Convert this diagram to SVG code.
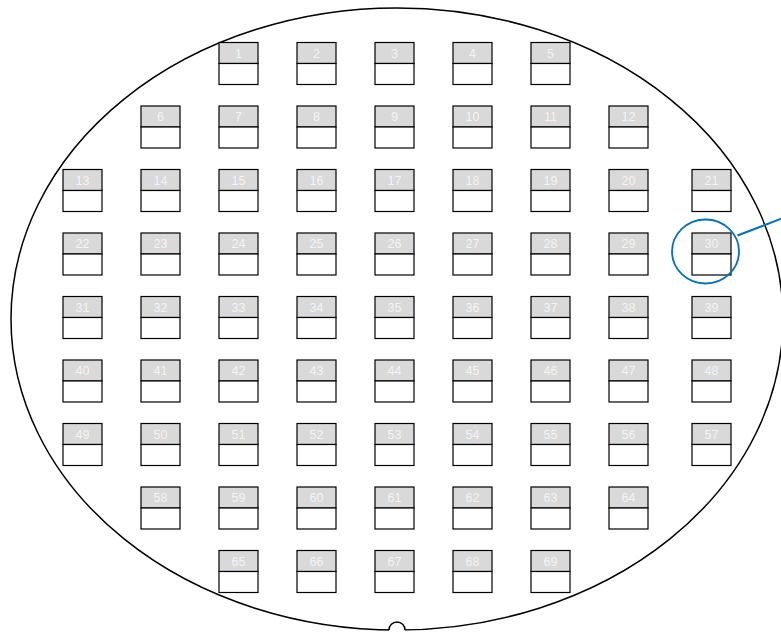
<svg xmlns="http://www.w3.org/2000/svg" width="781" height="633" viewBox="0 0 781 633">
<style>
.h{fill:#d9d9d9;stroke:#000;stroke-width:1.2}
.b{fill:#fff;stroke:#000;stroke-width:1.2}
.t{font-family:"Liberation Sans",Arial,sans-serif;font-size:12.5px;fill:#f4f4f4;text-anchor:middle}
</style>
<rect width="781" height="633" fill="#fff"/>
<g id="wafer">
<ellipse cx="397" cy="319" rx="386" ry="311" fill="none" stroke="#000" stroke-width="1.5"/>
<path d="M389,631 A8,8 0 0 1 405,631 Z" fill="#fff"/>
<path d="M389,630 A8,8 0 0 1 405,630" fill="none" stroke="#000" stroke-width="1.5"/>
</g>
<defs>
<g id="die"><rect class="h" x="0" y="0" width="39" height="21"/><rect class="b" x="0" y="21" width="39" height="21"/></g>
</defs>
<g id="n1" transform="translate(219,42.5)"><use href="#die"/><text class="t" x="19.5" y="15">1</text></g>
<g id="n2" transform="translate(297,42.5)"><use href="#die"/><text class="t" x="19.5" y="15">2</text></g>
<g id="n3" transform="translate(375,42.5)"><use href="#die"/><text class="t" x="19.5" y="15">3</text></g>
<g id="n4" transform="translate(453,42.5)"><use href="#die"/><text class="t" x="19.5" y="15">4</text></g>
<g id="n5" transform="translate(531,42.5)"><use href="#die"/><text class="t" x="19.5" y="15">5</text></g>
<g id="n6" transform="translate(141,106)"><use href="#die"/><text class="t" x="19.5" y="15">6</text></g>
<g id="n7" transform="translate(219,106)"><use href="#die"/><text class="t" x="19.5" y="15">7</text></g>
<g id="n8" transform="translate(297,106)"><use href="#die"/><text class="t" x="19.5" y="15">8</text></g>
<g id="n9" transform="translate(375,106)"><use href="#die"/><text class="t" x="19.5" y="15">9</text></g>
<g id="n10" transform="translate(453,106)"><use href="#die"/><text class="t" x="19.5" y="15">10</text></g>
<g id="n11" transform="translate(531,106)"><use href="#die"/><text class="t" x="19.5" y="15">11</text></g>
<g id="n12" transform="translate(609,106)"><use href="#die"/><text class="t" x="19.5" y="15">12</text></g>
<g id="n13" transform="translate(63,169.5)"><use href="#die"/><text class="t" x="19.5" y="15">13</text></g>
<g id="n14" transform="translate(141,169.5)"><use href="#die"/><text class="t" x="19.5" y="15">14</text></g>
<g id="n15" transform="translate(219,169.5)"><use href="#die"/><text class="t" x="19.5" y="15">15</text></g>
<g id="n16" transform="translate(297,169.5)"><use href="#die"/><text class="t" x="19.5" y="15">16</text></g>
<g id="n17" transform="translate(375,169.5)"><use href="#die"/><text class="t" x="19.5" y="15">17</text></g>
<g id="n18" transform="translate(453,169.5)"><use href="#die"/><text class="t" x="19.5" y="15">18</text></g>
<g id="n19" transform="translate(531,169.5)"><use href="#die"/><text class="t" x="19.5" y="15">19</text></g>
<g id="n20" transform="translate(609,169.5)"><use href="#die"/><text class="t" x="19.5" y="15">20</text></g>
<g id="n21" transform="translate(692,169.5)"><use href="#die"/><text class="t" x="19.5" y="15">21</text></g>
<g id="n22" transform="translate(63,233)"><use href="#die"/><text class="t" x="19.5" y="15">22</text></g>
<g id="n23" transform="translate(141,233)"><use href="#die"/><text class="t" x="19.5" y="15">23</text></g>
<g id="n24" transform="translate(219,233)"><use href="#die"/><text class="t" x="19.5" y="15">24</text></g>
<g id="n25" transform="translate(297,233)"><use href="#die"/><text class="t" x="19.5" y="15">25</text></g>
<g id="n26" transform="translate(375,233)"><use href="#die"/><text class="t" x="19.5" y="15">26</text></g>
<g id="n27" transform="translate(453,233)"><use href="#die"/><text class="t" x="19.5" y="15">27</text></g>
<g id="n28" transform="translate(531,233)"><use href="#die"/><text class="t" x="19.5" y="15">28</text></g>
<g id="n29" transform="translate(609,233)"><use href="#die"/><text class="t" x="19.5" y="15">29</text></g>
<g id="n30" transform="translate(692,233)"><use href="#die"/><text class="t" x="19.5" y="15">30</text></g>
<g id="n31" transform="translate(63,296.5)"><use href="#die"/><text class="t" x="19.5" y="15">31</text></g>
<g id="n32" transform="translate(141,296.5)"><use href="#die"/><text class="t" x="19.5" y="15">32</text></g>
<g id="n33" transform="translate(219,296.5)"><use href="#die"/><text class="t" x="19.5" y="15">33</text></g>
<g id="n34" transform="translate(297,296.5)"><use href="#die"/><text class="t" x="19.5" y="15">34</text></g>
<g id="n35" transform="translate(375,296.5)"><use href="#die"/><text class="t" x="19.5" y="15">35</text></g>
<g id="n36" transform="translate(453,296.5)"><use href="#die"/><text class="t" x="19.5" y="15">36</text></g>
<g id="n37" transform="translate(531,296.5)"><use href="#die"/><text class="t" x="19.5" y="15">37</text></g>
<g id="n38" transform="translate(609,296.5)"><use href="#die"/><text class="t" x="19.5" y="15">38</text></g>
<g id="n39" transform="translate(692,296.5)"><use href="#die"/><text class="t" x="19.5" y="15">39</text></g>
<g id="n40" transform="translate(63,360)"><use href="#die"/><text class="t" x="19.5" y="15">40</text></g>
<g id="n41" transform="translate(141,360)"><use href="#die"/><text class="t" x="19.5" y="15">41</text></g>
<g id="n42" transform="translate(219,360)"><use href="#die"/><text class="t" x="19.5" y="15">42</text></g>
<g id="n43" transform="translate(297,360)"><use href="#die"/><text class="t" x="19.5" y="15">43</text></g>
<g id="n44" transform="translate(375,360)"><use href="#die"/><text class="t" x="19.5" y="15">44</text></g>
<g id="n45" transform="translate(453,360)"><use href="#die"/><text class="t" x="19.5" y="15">45</text></g>
<g id="n46" transform="translate(531,360)"><use href="#die"/><text class="t" x="19.5" y="15">46</text></g>
<g id="n47" transform="translate(609,360)"><use href="#die"/><text class="t" x="19.5" y="15">47</text></g>
<g id="n48" transform="translate(692,360)"><use href="#die"/><text class="t" x="19.5" y="15">48</text></g>
<g id="n49" transform="translate(63,423.5)"><use href="#die"/><text class="t" x="19.5" y="15">49</text></g>
<g id="n50" transform="translate(141,423.5)"><use href="#die"/><text class="t" x="19.5" y="15">50</text></g>
<g id="n51" transform="translate(219,423.5)"><use href="#die"/><text class="t" x="19.5" y="15">51</text></g>
<g id="n52" transform="translate(297,423.5)"><use href="#die"/><text class="t" x="19.5" y="15">52</text></g>
<g id="n53" transform="translate(375,423.5)"><use href="#die"/><text class="t" x="19.5" y="15">53</text></g>
<g id="n54" transform="translate(453,423.5)"><use href="#die"/><text class="t" x="19.5" y="15">54</text></g>
<g id="n55" transform="translate(531,423.5)"><use href="#die"/><text class="t" x="19.5" y="15">55</text></g>
<g id="n56" transform="translate(609,423.5)"><use href="#die"/><text class="t" x="19.5" y="15">56</text></g>
<g id="n57" transform="translate(692,423.5)"><use href="#die"/><text class="t" x="19.5" y="15">57</text></g>
<g id="n58" transform="translate(141,487)"><use href="#die"/><text class="t" x="19.5" y="15">58</text></g>
<g id="n59" transform="translate(219,487)"><use href="#die"/><text class="t" x="19.5" y="15">59</text></g>
<g id="n60" transform="translate(297,487)"><use href="#die"/><text class="t" x="19.5" y="15">60</text></g>
<g id="n61" transform="translate(375,487)"><use href="#die"/><text class="t" x="19.5" y="15">61</text></g>
<g id="n62" transform="translate(453,487)"><use href="#die"/><text class="t" x="19.5" y="15">62</text></g>
<g id="n63" transform="translate(531,487)"><use href="#die"/><text class="t" x="19.5" y="15">63</text></g>
<g id="n64" transform="translate(609,487)"><use href="#die"/><text class="t" x="19.5" y="15">64</text></g>
<g id="n65" transform="translate(219,550.5)"><use href="#die"/><text class="t" x="19.5" y="15">65</text></g>
<g id="n66" transform="translate(297,550.5)"><use href="#die"/><text class="t" x="19.5" y="15">66</text></g>
<g id="n67" transform="translate(375,550.5)"><use href="#die"/><text class="t" x="19.5" y="15">67</text></g>
<g id="n68" transform="translate(453,550.5)"><use href="#die"/><text class="t" x="19.5" y="15">68</text></g>
<g id="n69" transform="translate(531,550.5)"><use href="#die"/><text class="t" x="19.5" y="15">69</text></g>
<g id="connectors">
<ellipse cx="705.5" cy="251.5" rx="33.5" ry="32" fill="none" stroke="#0070c0" stroke-width="1.8"/>
<line x1="737.5" y1="235.5" x2="783" y2="218" stroke="#0070c0" stroke-width="2"/>
</g>
</svg>
